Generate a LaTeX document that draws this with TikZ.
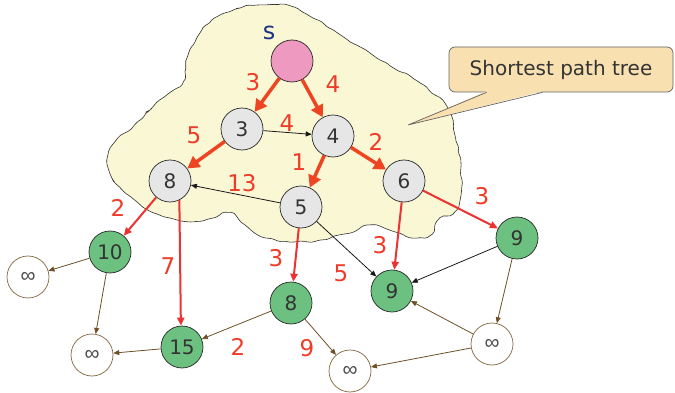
\documentclass[tikz,border=0pt]{standalone}
\usepackage{fontspec}
\setmainfont{DejaVu Sans}
\newfontfamily\inffont{Liberation Sans}
\usetikzlibrary{arrows.meta,decorations.pathmorphing,calc}
\definecolor{cloudfill}{RGB}{250,247,212}
\definecolor{nodegray}{RGB}{230,230,230}
\definecolor{nodegreen}{RGB}{108,192,128}
\definecolor{nodepink}{RGB}{238,153,192}
\definecolor{treered}{RGB}{238,68,34}
\definecolor{edgered}{RGB}{236,50,50}
\definecolor{labelred}{RGB}{238,60,40}
\definecolor{brownline}{RGB}{110,80,40}
\definecolor{infborder}{RGB}{130,100,60}
\definecolor{callfill}{RGB}{248,224,176}
\definecolor{textgray}{RGB}{51,51,51}
\definecolor{sblue}{RGB}{30,50,130}
\begin{document}
\begin{tikzpicture}[x=1pt,y=-1pt,
 vtx/.style={circle,minimum size=42pt,inner sep=0pt,draw=black!85,line width=0.7pt,text=textgray,font=\fontsize{20}{20}\selectfont},
 graynode/.style={vtx,fill=nodegray},
 greennode/.style={vtx,fill=nodegreen},
 srcnode/.style={vtx,fill=nodepink},
 infnode/.style={vtx,fill=white,draw=infborder,text=black!70,font=\inffont\fontsize{21}{21}\selectfont},
 treeedge/.style={treered,line width=3.5pt,-{Triangle[length=12pt,width=13pt]}},
 rededge/.style={edgered,line width=2pt,-{Triangle[length=8pt,width=7pt]}},
 blackedge/.style={black!90,line width=0.8pt,-{Triangle[length=6pt,width=5pt]}},
 brownedge/.style={brownline,line width=0.8pt,-{Triangle[length=6pt,width=5pt]}},
 wlabel/.style={text=labelred,font=\fontsize{23}{23}\selectfont,inner sep=0pt},
 callbox/.style={draw=black!60,line width=0.7pt,fill=callfill,rounded corners=6pt,minimum width=224pt,minimum height=45pt,inner sep=0pt,text=textgray,font=\fontsize{20}{20}\selectfont},
]
\fill[white] (0,0) rectangle (675,393);
\useasboundingbox (0,0) rectangle (675,393);
% cloud
\pgfmathsetseed{7}
\draw[fill=cloudfill,draw=black!80,line width=0.6pt,decorate,decoration={random steps,segment length=5pt,amplitude=1.3pt},rounded corners=2pt]
 plot[smooth cycle,tension=0.55] coordinates {
 (265,5) (290,6) (313,18) (345,38) (380,60) (420,83) (447,107) (455,135) (461,165) (461,195) (456,210)
 (440,218) (432,234) (413,238) (395,232) (372,225) (350,233) (320,240) (290,242) (262,237) (245,225)
 (230,213) (200,221) (170,218) (150,211) (131,197) (112,178) (107,160) (115,142) (131,129) (150,110)
 (168,94) (182,84) (187,58) (200,33) (215,18) (240,8)};
% callout
\node[callbox] (callout) at (561,69.5) {Shortest path tree};
\coordinate (tip) at (408,125);
\fill[callfill] ($(callout.south west)+(38,-1.2)$) -- (tip) -- ($(callout.south west)+(94,-1.2)$) -- cycle;
\draw[black!60,line width=0.7pt] ($(callout.south west)+(38,0)$) -- (tip) -- ($(callout.south west)+(94,0)$);
% nodes
\node[srcnode] (s) at (292,61) {};
\node[text=sblue,font=\fontsize{24}{24}\selectfont,inner sep=0pt] (slab) at (269,33) {s};
\node[graynode] (n3) at (242,129) {3};
\node[graynode] (n4) at (333,136) {4};
\node[graynode] (n8) at (170,181) {8};
\node[graynode] (n5) at (301,207) {5};
\node[graynode] (n6) at (404,181) {6};
\node[greennode] (g10) at (110,252) {10};
\node[greennode] (g15) at (182,347) {15};
\node[greennode] (g8) at (291,303) {8};
\node[greennode] (g9a) at (392,291) {9};
\node[greennode] (g9b) at (517,238) {9};
\node[infnode] (i1) at (28,277) {∞};
\node[infnode] (i2) at (92,355) {∞};
\node[infnode] (i3) at (350,371) {∞};
\node[infnode] (i4) at (492,344) {∞};
% tree edges
\draw[treeedge] (s) -- (n3);
\draw[treeedge] (s) -- (n4);
\draw[treeedge] (n3) -- (n8);
\draw[treeedge] (n4) -- (n5);
\draw[treeedge] (n4) -- (n6);
\draw[rededge] (n8) -- (g10);
\draw[rededge] (n8.-64) -- (g15.93);
\draw[rededge] (n5) -- (g8);
\draw[rededge] (n6) -- (g9a);
\draw[rededge] (n6) -- (g9b);
% black edges
\draw[blackedge] (n3) -- (n4);
\draw[blackedge] (n5) -- (n8);
\draw[blackedge] (n5) -- (g9a);
\draw[blackedge] (g9b) -- (g9a);
% brown edges
\draw[brownedge] (g10) -- (i1);
\draw[brownedge] (g10) -- (i2);
\draw[brownedge] (g15) -- (i2);
\draw[brownedge] (g8) -- (g15);
\draw[brownedge] (g8) -- (i3);
\draw[brownedge] (g9b) -- (i4);
\draw[brownedge] (i4) -- (g9a);
\draw[brownedge] (i4) -- (i3);
% weights
\node[wlabel] (w1) at (253,82) {3};
\node[wlabel] (w2) at (333,84) {4};
\node[wlabel] (w3) at (194,135) {5};
\node[wlabel] (w4) at (287,123) {4};
\node[wlabel] (w5) at (376,142) {2};
\node[wlabel] (w6) at (299,162) {1};
\node[wlabel] (w7) at (242,183) {13};
\node[wlabel] (w8) at (118,208) {2};
\node[wlabel] (w9) at (168,266) {7};
\node[wlabel] (w10) at (276,258) {3};
\node[wlabel] (w11) at (341,273) {5};
\node[wlabel] (w12) at (380,245) {3};
\node[wlabel] (w13) at (482,196) {3};
\node[wlabel] (w14) at (238,347) {2};
\node[wlabel] (w15) at (307,348) {9};
\end{tikzpicture}
\end{document}
